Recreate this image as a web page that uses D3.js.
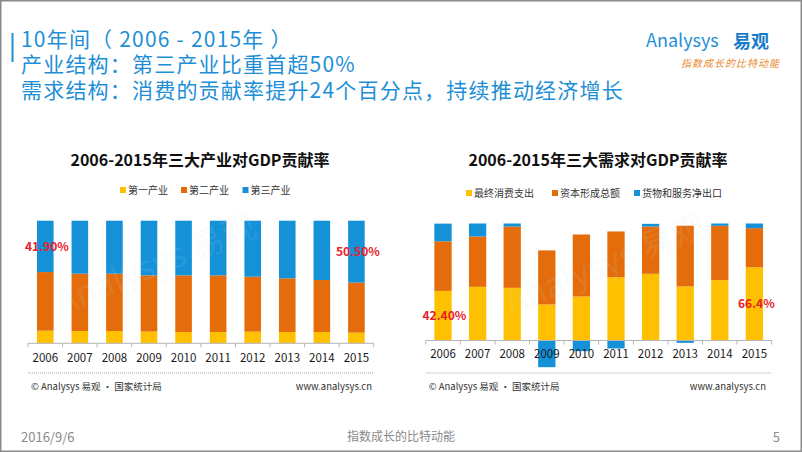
<!DOCTYPE html>
<html>
<head>
<meta charset="utf-8">
<script src="https://cdn.jsdelivr.net/npm/d3@7"></script>
<style>
html,body{margin:0;padding:0;background:#fff;}
svg{display:block;}
text{font-family:"Noto Sans CJK SC","Noto Sans",sans-serif;}
</style>
</head>
<body>
<svg id="c" width="802" height="452"></svg>
<script>
// ---------- data ----------
const years = ["2006","2007","2008","2009","2010","2011","2012","2013","2014","2015"];
// 三大产业对GDP贡献率 (%)
const primary   = [10.3, 10.0, 10.0, 9.6, 9.2, 9.2, 9.5, 9.2, 9.2, 8.7];
const secondary = [47.8, 46.8, 46.8, 45.8, 46.2, 46.2, 44.8, 43.8, 42.4, 40.8];
const tertiary  = [41.9, 43.2, 43.2, 44.6, 44.6, 44.6, 45.7, 47.0, 48.4, 50.5];
// 三大需求对GDP贡献率 (%)
const consumption = [42.4, 45.9, 45.0, 30.8, 37.6, 54.1, 57.0, 46.2, 51.6, 62.6];
const capital     = [42.4, 43.0, 52.4, 46.2, 53.0, 39.1, 40.4, 51.9, 46.4, 33.4];
const netExports  = [15.1, 11.1, 2.6, -22.8, -9.1, -6.8, 2.3, -2.0, 2.0, 4.0];

const industryNames = ["第一产业","第二产业","第三产业"];
const demandNames = ["最终消费支出","资本形成总额","货物和服务净出口"];
const leftTitle = "2006-2015年三大产业对GDP贡献率";
const rightTitle = "2006-2015年三大需求对GDP贡献率";
const leftLabels = [{year:"2006", text:"41.90%"},{year:"2015", text:"50.50%"}];
const rightLabels = [{year:"2006", text:"42.40%"},{year:"2015", text:"66.4%"}];
const headLines = ["10年间（ 2006 - 2015年 ）","产业结构：第三产业比重首超50%","需求结构：消费的贡献率提升24个百分点，持续推动经济增长"];

const colors = ["#FFC000","#E46C0A","#1591D8"];
const svg = d3.select("#c");
const blue = "#1E8FD6";

// frame
svg.append("rect").attr("x",0.75).attr("y",0.75).attr("width",800.5).attr("height",450.5)
  .attr("fill","#fff").attr("stroke","#8a8a8a").attr("stroke-width",1.5);

// ---------- header ----------
svg.append("rect").attr("x",11.5).attr("y",33).attr("width",2).attr("height",29).attr("fill",blue);
svg.selectAll("text.head").data(headLines).join("text").attr("class","head")
  .attr("font-size",21).attr("fill",blue).attr("letter-spacing",1.2)
  .attr("x",21).attr("y",(d,i)=>46.5+i*25.5).text(d=>d);

// logo
svg.append("text").attr("x",646).attr("y",47).attr("font-size",18)
  .attr("font-family","'Open Sans',sans-serif").attr("fill",blue).text("Analysys");
svg.append("text").attr("x",733).attr("y",48).attr("font-size",18).attr("font-weight","bold")
  .attr("fill","#1A7CC8").text("易观");
svg.append("text").attr("x",681).attr("y",67).attr("font-size",10).attr("fill","#E8882A")
  .attr("font-style","italic").attr("letter-spacing",1).text("指数成长的比特动能");

// ---------- helpers ----------
function drawChart(opt){
  const g = svg.append("g");
  const x = d3.scaleBand().domain(years).range(opt.xr).paddingInner(opt.pad).paddingOuter(opt.pad/2);
  const y = d3.scaleLinear().domain([0,100]).range(opt.yr);
  const rows = years.map((yr,i)=>({year:yr, a:opt.s[0][i], b:opt.s[1][i], c:opt.s[2][i]}));
  const stacked = d3.stack().keys(["a","b","c"]).offset(d3.stackOffsetDiverging)(rows);
  g.selectAll("g.ser").data(stacked).join("g").attr("fill",(d,i)=>colors[i])
    .selectAll("rect").data(d=>d).join("rect")
    .attr("x",d=>x(d.data.year)).attr("width",x.bandwidth())
    .attr("y",d=>y(Math.max(d[0],d[1]))).attr("height",d=>Math.abs(y(d[0])-y(d[1])));
  // axis line + ticks at band edges
  const y0 = y(0);
  g.append("line").attr("x1",opt.xr[0]).attr("x2",opt.xr[1]).attr("y1",y0).attr("y2",y0)
    .attr("stroke","#b5b5b5").attr("stroke-width",1);
  const edges = years.map(d=>x(d)-(x.step()-x.bandwidth())/2).concat([opt.xr[1]]);
  g.selectAll("line.tk").data(edges).join("line").attr("class","tk")
    .attr("x1",d=>d).attr("x2",d=>d).attr("y1",y0).attr("y2",y0+4).attr("stroke","#b5b5b5");
  const ax = g.append("g").attr("transform",`translate(0,${opt.labelY})`)
    .call(d3.axisBottom(x).tickSize(0).tickPadding(0));
  ax.select(".domain").remove();
  ax.selectAll("text").attr("font-size",11.5).attr("font-family","Roboto,sans-serif")
    .attr("fill","#1a1a1a").attr("dy","0.35em");
  // title
  g.append("text").attr("x",opt.cx).attr("y",166).attr("text-anchor","middle")
    .attr("font-size",16).attr("font-weight","bold").attr("fill","#111").text(opt.title);
  // legend
  opt.names.forEach((n,i)=>{
    g.append("rect").attr("x",opt.legX[i]).attr("y",opt.legY-3).attr("width",6).attr("height",6).attr("fill",colors[i]);
    g.append("text").attr("x",opt.legX[i]+8).attr("y",opt.legY).attr("dy","0.35em")
      .attr("font-size",10).attr("fill","#333").text(n);
  });
  // red labels
  opt.labels.forEach((l,i)=>{
    g.append("text").attr("x",opt.labPos[i][0]).attr("y",opt.labPos[i][1]).attr("dy","0.35em")
      .attr("font-size",12).attr("font-weight","bold").attr("font-family","'Open Sans',sans-serif")
      .attr("fill","#E8202A").text(l.text);
  });
  // footer
  g.append("line").attr("x1",opt.xr[0]).attr("x2",opt.xr[1]).attr("y1",373).attr("y2",373)
    .attr("stroke","#a0a0a0").attr("stroke-dasharray","1,1");
  g.append("text").attr("x",opt.xr[0]+3).attr("y",387).attr("dy","0.35em").attr("font-size",9.5)
    .attr("fill","#333").text("© Analysys 易观 · 国家统计局");
  g.append("text").attr("x",opt.footR).attr("y",387).attr("dy","0.35em").attr("font-size",9.5)
    .attr("text-anchor","end").attr("fill","#333").text("www.analysys.cn");
  // watermark
  const wm = g.append("g").attr("transform",`translate(${opt.wm[0]},${opt.wm[1]}) rotate(-22)`)
    .attr("opacity",0.1).attr("fill","#c9dff0");
  wm.append("text").attr("text-anchor","middle").attr("font-size",34)
    .attr("font-family","'Open Sans',sans-serif").text("Analysys 易观");
}

drawChart({xr:[28,373.7], yr:[343.3,220.7], pad:0.52, s:[primary,secondary,tertiary], labelY:358,
  cx:200, title:leftTitle, names:industryNames, legX:[120,181,242.5], legY:190,
  labels:leftLabels, labPos:[[25,247],[336,252]], footR:372, wm:[160,275]});
drawChart({xr:[425.7,771.7], yr:[340.5,223.5], pad:0.5, s:[consumption,capital,netExports], labelY:354,
  cx:598, title:rightTitle, names:demandNames, legX:[466,552,634], legY:193,
  labels:rightLabels, labPos:[[422.5,316],[738,304]], footR:766, wm:[610,275]});

// bottom bar
svg.append("text").attr("x",21).attr("y",437).attr("dy","0.35em").attr("font-size",13)
  .attr("fill","#8a8a8a").attr("font-family","Roboto,sans-serif").text("2016/9/6");
svg.append("text").attr("x",401).attr("y",437).attr("dy","0.35em").attr("font-size",12)
  .attr("text-anchor","middle").attr("fill","#8a8a8a").text("指数成长的比特动能");
svg.append("text").attr("x",780).attr("y",437).attr("dy","0.35em").attr("font-size",13)
  .attr("text-anchor","end").attr("fill","#8a8a8a").attr("font-family","Roboto,sans-serif").text("5");
</script>
</body>
</html>
